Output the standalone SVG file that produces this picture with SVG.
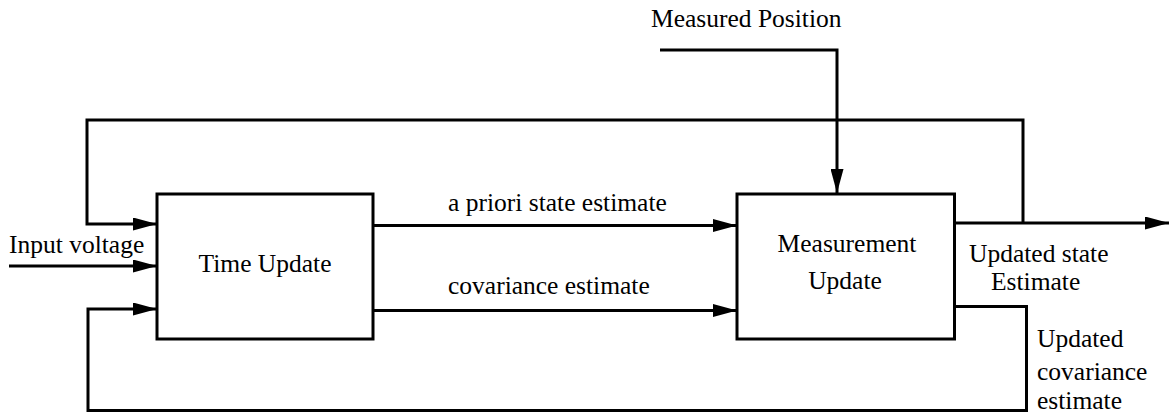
<svg xmlns="http://www.w3.org/2000/svg" width="1171" height="414" viewBox="0 0 1171 414" font-family="'Liberation Serif', 'Times New Roman', serif">
  <style>
    .box { fill: #ffffff; stroke: #000000; stroke-width: 3; }
    .wire { fill: none; stroke: #000000; stroke-width: 3; stroke-linejoin: miter; }
    .arrow { marker-end: url(#head); }
    text { font-size: 25.5px; fill: #000000; }
    .mid { text-anchor: middle; }
  </style>
  <defs>
    <marker id="head" markerUnits="userSpaceOnUse" markerWidth="25" markerHeight="13" refX="24" refY="6.5" orient="auto">
      <path d="M0,0 L24,6.5 L0,13 Z" fill="#000000"/>
    </marker>
  </defs>
  <rect width="1171" height="414" fill="#ffffff"/>

  <!-- signal paths -->
  <g id="connectors">
    <!-- measured position into the measurement block -->
    <path class="wire arrow" d="M660,50 H837 V193"/>
    <!-- state estimate fed back into the time update -->
    <path class="wire arrow" d="M1023,223 V120 H87 V224 H157"/>
    <!-- input voltage -->
    <path class="wire arrow" d="M9,266 H157"/>
    <!-- covariance fed back into the time update -->
    <path class="wire arrow" d="M952,306.5 H1026.5 V410.5 H88 V309 H157"/>
    <!-- time update to measurement update -->
    <path class="wire arrow" d="M373,225.5 H737"/>
    <path class="wire arrow" d="M373,310.5 H737"/>
    <!-- updated state output -->
    <path class="wire arrow" d="M955,223 H1169"/>
  </g>

  <g id="time-update">
    <rect class="box" x="157" y="194" width="216" height="145"/>
    <text x="265" y="272" class="mid" font-family="'Liberation Serif', serif">Time Update</text>
  </g>

  <g id="measurement-update">
    <rect class="box" x="737" y="194" width="217.5" height="145"/>
    <text x="847" y="252" class="mid" font-family="'Liberation Serif', serif">Measurement</text>
    <text x="845" y="289" class="mid" font-family="'Liberation Serif', serif">Update</text>
  </g>

  <g id="labels" font-family="'Liberation Serif', serif">
    <text x="651" y="27" font-family="'Liberation Serif', serif">Measured Position</text>
    <text x="9" y="253" font-family="'Liberation Serif', serif">Input voltage</text>
    <text x="448" y="211" font-family="'Liberation Serif', serif">a priori state estimate</text>
    <text x="448" y="294" font-family="'Liberation Serif', serif">covariance estimate</text>
    <text x="969" y="262" font-family="'Liberation Serif', serif">Updated state</text>
    <text x="991" y="290" font-family="'Liberation Serif', serif">Estimate</text>
    <text x="1037" y="347" font-family="'Liberation Serif', serif">Updated</text>
    <text x="1037" y="380" font-family="'Liberation Serif', serif">covariance</text>
    <text x="1037" y="409" font-family="'Liberation Serif', serif">estimate</text>
  </g>
</svg>
